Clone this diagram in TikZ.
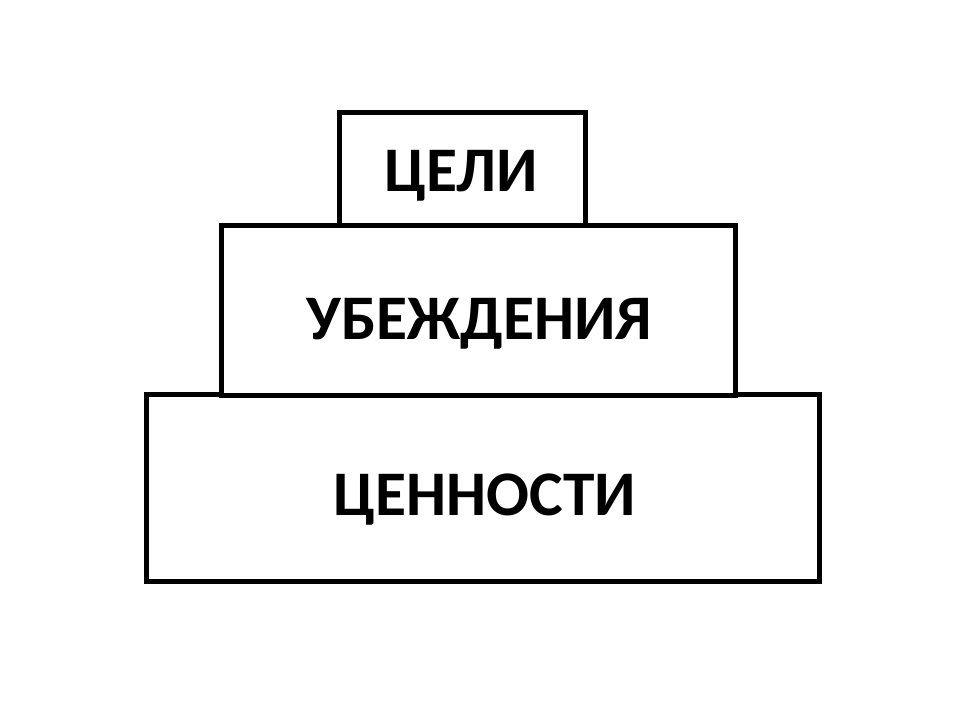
\documentclass[tikz,border=0pt]{standalone}
\usepackage{fontspec}
\setmainfont{Carlito}
\usetikzlibrary{positioning}

\begin{document}
\begin{tikzpicture}[
    x=1pt, y=-1pt,
    tier/.style={draw, rectangle, line width=5pt, fill=white, inner sep=0pt},
    tiertext/.style={anchor=base, font=\bfseries\fontsize{63.5}{63.5}\selectfont}
]
% Canvas
\fill[white] (0,0) rectangle (970,716);
\useasboundingbox (0,0) rectangle (970,716);

% Tiers
\node[tier, minimum width=673pt, minimum height=187pt] (values) at (483.3,488.3) {};
\node[tier, minimum width=514pt, minimum height=170pt] (beliefs) at (478.7,310) {};
\node[tier, minimum width=246pt, minimum height=112.5pt] (goals) at (462.5,168.8) {};

% Labels
\node[tiertext] (goalstext) at (461,191) {ЦЕЛИ};
\node[tiertext] (beliefstext) at (479.5,339) {УБЕЖДЕНИЯ};
\node[tiertext] (valuestext) at (485,515.5) {ЦЕННОСТИ};

\end{tikzpicture}
\end{document}
